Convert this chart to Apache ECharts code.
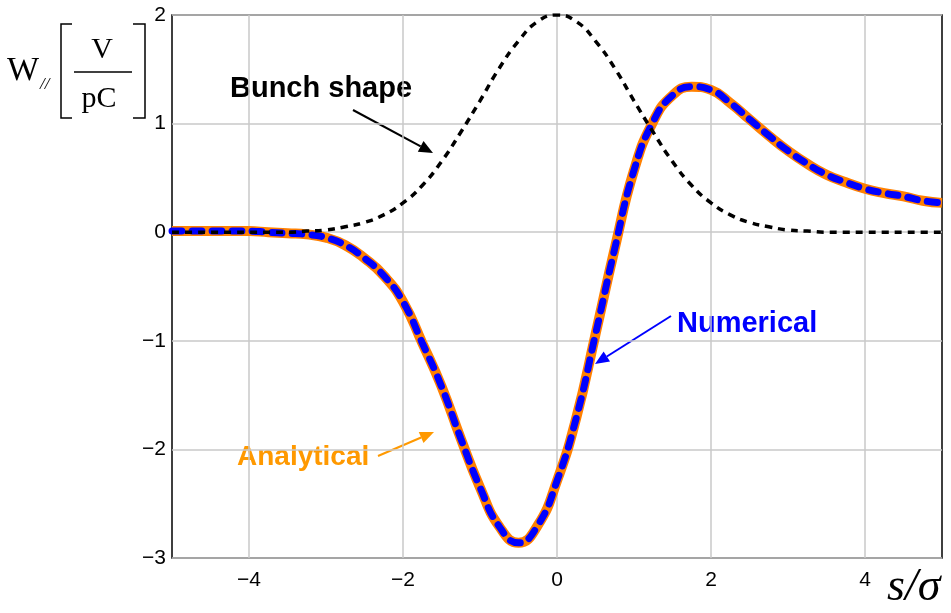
<!DOCTYPE html>
<html>
<head>
<meta charset="utf-8">
<title>Wake potential</title>
<style>
  html, body { margin:0; padding:0; background:#fff; }
  #main { width:951px; height:613px; }
</style>
</head>
<body>
<div id="main"></div>
<script src="https://cdn.jsdelivr.net/npm/echarts@6/dist/echarts.min.js"></script>
<script>
// s/sigma positions, step 0.25
var sValues = [-5,-4.75,-4.5,-4.25,-4,-3.75,-3.5,-3.25,-3,-2.75,-2.5,-2.25,-2,-1.75,-1.5,-1.25,-1,-0.75,-0.5,-0.25,
               0,0.25,0.5,0.75,1,1.25,1.5,1.75,2,2.25,2.5,2.75,3,3.25,3.5,3.75,4,4.25,4.5,4.75,5];
// bunch shape (black dashed)
var bunchShape = [0,0,0,0,0,0,0,0.01,0.02,0.05,0.09,0.16,0.27,0.43,0.65,0.92,1.21,1.51,1.76,1.94,
                  2.0,1.94,1.76,1.51,1.21,0.92,0.65,0.43,0.27,0.16,0.09,0.05,0.02,0.01,0,0,0,0,0,0,0];
// analytical wake (orange)
var wakeAnalytical = [0.01,0.01,0.01,0.01,0.01,0,-0.01,-0.02,-0.05,-0.12,-0.24,-0.40,-0.64,-1.02,-1.42,-1.90,-2.35,-2.71,-2.86,-2.70,
                      -2.29,-1.71,-0.94,-0.15,0.57,1.02,1.26,1.34,1.31,1.19,1.04,0.89,0.75,0.63,0.53,0.46,0.40,0.36,0.33,0.29,0.27];
// numerical wake (blue dashed)
var wakeNumerical = [0.01,0.01,0.01,0.01,0.01,0,-0.01,-0.02,-0.05,-0.12,-0.24,-0.40,-0.64,-1.02,-1.42,-1.90,-2.35,-2.71,-2.86,-2.70,
                     -2.29,-1.71,-0.94,-0.15,0.57,1.02,1.26,1.34,1.31,1.19,1.04,0.89,0.75,0.63,0.53,0.46,0.40,0.36,0.33,0.29,0.27];

function pairs(ys) {
    var out = [];
    for (var i = 0; i < sValues.length; i++) out.push([sValues[i], ys[i]]);
    return out;
}
function minus(v) { return v < 0 ? '\u2212' + (-v) : String(v); }

// arrow: line + filled head, pixel coords
function arrow(x1, y1, x2, y2, color, w, hl, hw) {
    var a = Math.atan2(y2 - y1, x2 - x1);
    var bx = x2 - hl * Math.cos(a), by = y2 - hl * Math.sin(a);
    var px = -Math.sin(a) * hw, py = Math.cos(a) * hw;
    return [
        { type:'line', shape:{ x1:x1, y1:y1, x2:bx, y2:by }, style:{ stroke:color, lineWidth:w }, silent:true },
        { type:'polygon', shape:{ points:[[x2,y2],[bx+px,by+py],[bx-px,by-py]] }, style:{ fill:color }, silent:true }
    ];
}

var serif = '"Liberation Serif", "DejaVu Serif", serif';
var sans = '"Liberation Sans", Arial, sans-serif';

var graphics = [
    { type:'text', left:7, top:54, style:{ text:'W', font:'34px ' + serif, fill:'#000' } },
    { type:'text', left:40, top:76, style:{ text:'//', font:'italic 17px ' + serif, fill:'#000' } },
    // left bracket
    { type:'polyline', shape:{ points:[[72,24],[61,24],[61,118],[72,118]] }, style:{ stroke:'#000', lineWidth:1.5, fill:null } },
    // right bracket
    { type:'polyline', shape:{ points:[[133,24],[145,24],[145,118],[133,118]] }, style:{ stroke:'#000', lineWidth:1.5, fill:null } },
    { type:'text', x:102, y:35, style:{ text:'V', font:'30px ' + serif, fill:'#000', align:'center' } },
    { type:'line', shape:{ x1:74, y1:72, x2:132, y2:72 }, style:{ stroke:'#000', lineWidth:1.5 } },
    { type:'text', x:99, y:84, style:{ text:'pC', font:'30px ' + serif, fill:'#000', align:'center' } },
    { type:'text', left:887, top:565, style:{ text:'s/\u03c3', font:'italic 46px ' + serif, fill:'#000' } },
    { type:'text', left:230, top:74, style:{ text:'Bunch shape', font:'bold 29px ' + sans, fill:'#000' } },
    { type:'text', left:677, top:309, style:{ text:'Numerical', font:'bold 29px ' + sans, fill:'#0000ff' } },
    { type:'text', left:237, top:443, style:{ text:'Analytical', font:'bold 28px ' + sans, fill:'#ff9900' } }
].concat(arrow(353, 110, 433, 153, '#000', 2, 14, 6))
 .concat(arrow(671, 316, 595, 364, '#0000ff', 2, 14, 6))
 .concat(arrow(378, 456, 434, 432, '#ff9900', 2, 14, 6));

var myChart = echarts.init(document.getElementById('main'));
myChart.setOption({
    backgroundColor: '#fff',
    animation: false,
    grid: { left:172, right:9, top:15, bottom:55, show:true, borderColor:'#000', borderWidth:1.5 },
    xAxis: {
        type:'value', min:-5, max:5, interval:1,
        axisLine:{ show:false },
        axisTick:{ show:false },
        axisLabel:{
            margin:12, fontSize:21, color:'#000', fontFamily:sans,
            formatter:function (v) { return (v % 2 === 0 && Math.abs(v) < 5) ? minus(v) : ''; }
        },
        splitLine:{ show:true, lineStyle:{ color:['rgba(0,0,0,0)', '#c8c8c8'], width:1.5 } }
    },
    yAxis: {
        type:'value', min:-3, max:2, interval:1,
        axisLine:{ show:false },
        axisTick:{ show:false },
        axisLabel:{ margin:6, fontSize:21, color:'#000', fontFamily:sans, formatter:minus },
        splitLine:{ show:true, lineStyle:{ color:'#c8c8c8', width:1.5 } }
    },
    series: [
        {
            name:'Analytical', type:'line', data:pairs(wakeAnalytical), showSymbol:false,
            smooth:0.5,
            lineStyle:{ color:'#ff8000', width:10 }
        },
        {
            name:'Numerical', type:'line', data:pairs(wakeNumerical), showSymbol:false,
            smooth:0.5,
            lineStyle:{ color:'#0000ff', width:7, type:[10, 10], cap:'round' }
        },
        {
            name:'Bunch shape', type:'line', data:pairs(bunchShape), showSymbol:false,
            smooth:0.5,
            lineStyle:{ color:'#000', width:3.5, type:[7, 6] }
        }
    ],
    graphic: graphics
});
</script>
</body>
</html>
